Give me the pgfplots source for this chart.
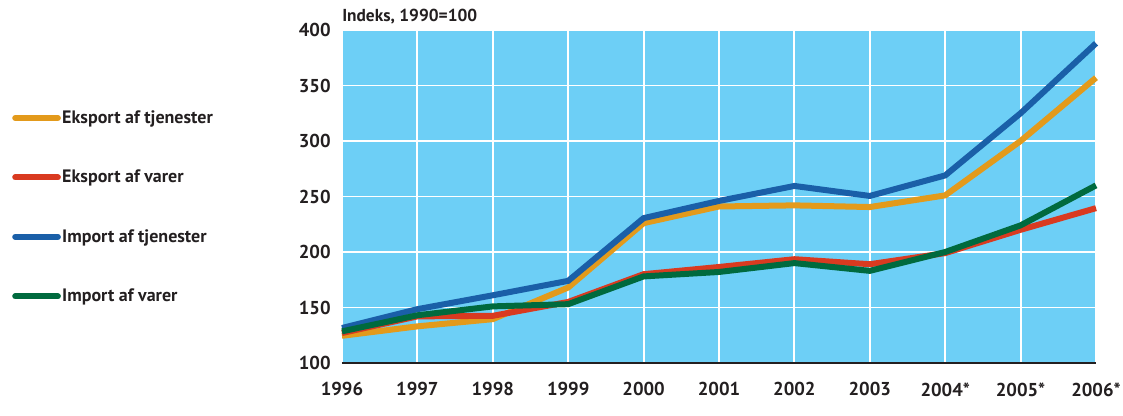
\documentclass[border=0pt]{standalone}
\usepackage{pgfplots}
\pgfplotsset{compat=1.18}
\usepackage{fontspec}
\setmainfont{PT Sans}
\definecolor{bgblue}{HTML}{6DCFF6}
\definecolor{corange}{HTML}{E39A1B}
\definecolor{cred}{HTML}{D93A20}
\definecolor{cblue}{HTML}{1A5FA8}
\definecolor{cgreen}{HTML}{006A3E}
\definecolor{ctext}{HTML}{231F20}
\begin{document}
\begin{tikzpicture}
\begin{axis}[
  scale only axis,
  width=565.5pt, height=249.75pt,
  xmin=0, xmax=10, ymin=100, ymax=400,
  xtick={0,...,10},
  xticklabels={1996,1997,1998,1999,2000,2001,2002,2003,2004*,2005*,2006*},
  ytick={100,150,...,400},
  grid=major,
  major grid style={white, line width=1.4pt},
  axis background/.style={fill=bgblue},
  axis line style={draw=none},
  major tick length=0pt,
  tick label style={font=\fontsize{14}{16}\selectfont\bfseries, text=ctext},
  /pgf/number format/assume math mode=true,
  yticklabel style={xshift=-5pt},
  xticklabel style={yshift=-11pt},
  legend image code/.code={\draw[line width=4.5pt, line cap=round, #1] (0pt,0pt) -- (32pt,0pt);},
  legend style={draw=none, fill=none, at={(rel axis cs:-0.4377,0.468)}, anchor=west,
    font=\fontsize{13.5}{15}\selectfont\bfseries, text=ctext, row sep=31.5pt, inner sep=0pt,
    nodes={inner sep=1pt}},
  legend cell align=left,
  clip=false,
]
\addplot[corange, line width=4.5pt] coordinates {(0,124.5) (1,133) (2,139.5) (3,168) (4,226) (5,241) (6,242) (7,240.5) (8,251) (9,300) (10,357)};
\addlegendentry{Eksport af tjenester}
\addplot[cred, line width=4.5pt] coordinates {(0,127) (1,142) (2,142.5) (3,155) (4,180) (5,186.5) (6,193.5) (7,189) (8,199) (9,220) (10,239.5)};
\addlegendentry{Eksport af varer}
\addplot[cblue, line width=4.5pt] coordinates {(0,131.5) (1,148.5) (2,161) (3,174) (4,230.5) (5,246) (6,259.5) (7,250.5) (8,269) (9,325) (10,388)};
\addlegendentry{Import af tjenester}
\addplot[cgreen, line width=4.5pt] coordinates {(0,128.5) (1,143) (2,151) (3,153) (4,178) (5,182) (6,190) (7,183) (8,200) (9,224) (10,260)};
\addlegendentry{Import af varer}
\draw[ctext, line width=1.6pt] (rel axis cs:0,0) -- (rel axis cs:1,0);
\node[anchor=south west, inner sep=0pt, font=\fontsize{13}{15}\selectfont\bfseries, text=ctext] at ([yshift=4pt]rel axis cs:0,1) {Indeks, 1990=100};
\coordinate (sw) at (rel axis cs:0,0);
\coordinate (ne) at (rel axis cs:1,1);
\end{axis}
\pgfresetboundingbox
\useasboundingbox ([xshift=-256.5pt, yshift=-39.75pt]sw) rectangle ([xshift=20.25pt, yshift=22.5pt]ne);
\end{tikzpicture}
\end{document}
